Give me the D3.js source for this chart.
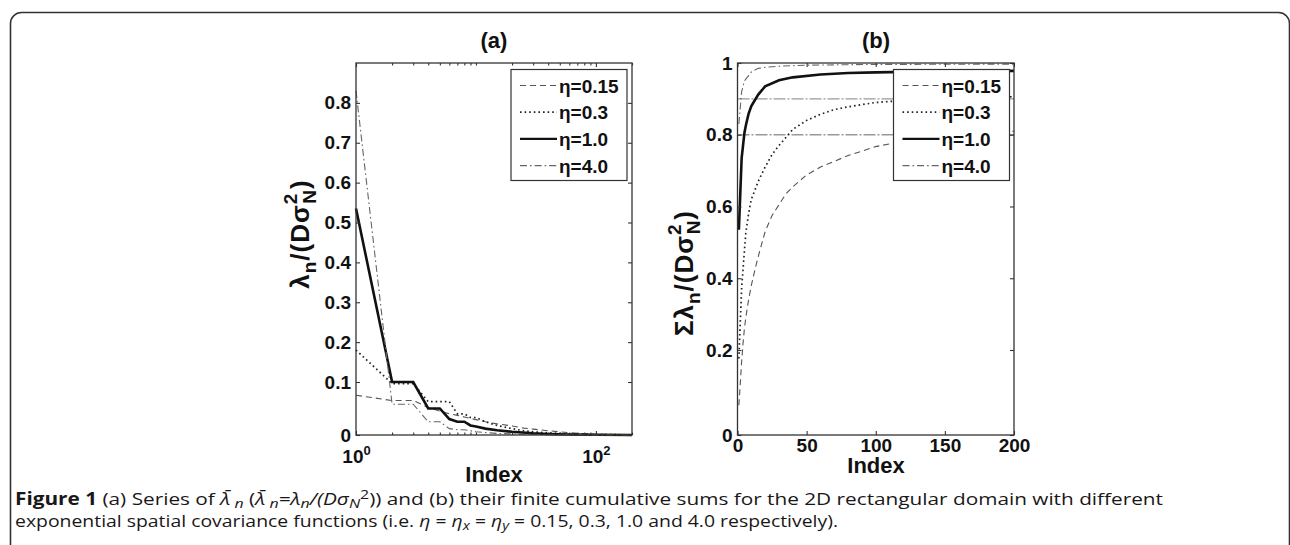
<!DOCTYPE html>
<html>
<head>
<meta charset="utf-8">
<script src="https://cdn.jsdelivr.net/npm/d3@7/dist/d3.min.js"></script>
<style>
body { margin: 0; background: #fff; }
svg text { font-family: "Liberation Sans", Arial, sans-serif; fill: #111; }
.tick text { font-weight: bold; font-size: 19px; }
.tick line { stroke: #333; }
.lab { font-weight: bold; }
.caption text { font-family: "Open Sans", "Noto Sans", sans-serif; fill: #1a1718; }
</style>
</head>
<body>
<svg width="1290" height="545"></svg>
<script>
// legend labels
var etaLabels = ["η=0.15", "η=0.3", "η=1.0", "η=4.0"];

// (a) normalised eigenvalues, [index, value]
var eigA015 = [[1,.075],[2,.065],[3,.065],[4,.052],[5,.045],[6,.04],[7,.037],[8,.034],[10,.029],[12,.025],[15,.021],[20,.017],[25,.013],[30,.011],[40,.008],[50,.006],[70,.003],[100,.0015],[150,.0006],[200,.0003]];
var eigA03  = [[1,.18],[2,.097],[3,.097],[4,.063],[5,.063],[6,.063],[7,.04],[8,.04],[9,.033],[10,.033],[12,.025],[15,.018],[20,.012],[25,.008],[30,.006],[40,.004],[50,.003],[70,.0015],[100,.0008],[200,.0003]];
var eigA10  = [[1,.535],[2,.1],[3,.1],[4,.05],[5,.05],[6,.03],[7,.025],[8,.025],[9,.018],[10,.016],[12,.012],[15,.009],[20,.006],[30,.003],[40,.002],[60,.001],[100,.0004],[200,.0001]];
var eigA40  = [[1,.83],[2,.058],[3,.058],[4,.025],[5,.025],[6,.012],[7,.01],[8,.01],[10,.006],[15,.003],[20,.002],[30,.001],[50,.0005],[200,0]];

// (b) cumulative sums, [index, value]
var cumB015 = [[1,.07],[2,.12],[3,.173],[4,.218],[5,.26],[6,.29],[8,.34],[10,.38],[13,.43],[16,.475],[20,.53],[25,.575],[30,.605],[35,.635],[40,.655],[50,.688],[60,.71],[80,.742],[100,.767],[120,.782],[150,.797],[200,.81]];
var cumB03  = [[1,.18],[2,.277],[3,.374],[4,.425],[5,.476],[6,.526],[8,.58],[10,.62],[15,.67],[20,.71],[25,.745],[30,.77],[40,.815],[50,.84],[60,.857],[70,.87],[80,.878],[100,.89],[130,.898],[160,.903],[200,.906]];
var cumB10  = [[1,.535],[2,.635],[3,.735],[4,.77],[5,.805],[6,.825],[7,.842],[8,.858],[10,.88],[15,.912],[20,.935],[30,.952],[40,.96],[60,.968],[80,.972],[100,.974],[150,.977],[200,.978]];
var cumB40  = [[1,.83],[2,.875],[3,.92],[4,.935],[5,.95],[6,.955],[8,.965],[10,.975],[15,.985],[20,.988],[30,.991],[50,.994],[100,.996],[200,.997]];

// horizontal reference levels in (b)
var refLevels = [0.9, 0.8];

// ticks
var xTicksA = [1, 100],
    xMinorA = [2,3,4,5,6,7,8,9,10,20,30,40,50,60,70,80,90,200],
    yTicksA = [0, 0.1, 0.2, 0.3, 0.4, 0.5, 0.6, 0.7, 0.8],
    xTicksB = [0, 50, 100, 150, 200],
    yTicksB = [0, 0.2, 0.4, 0.6, 0.8, 1];

var styles = [
    {dash: "6,4", color: "#555", width: 1.1},
    {dash: "1.6,3", color: "#222", width: 1.7},
    {dash: null, color: "#111", width: 2.6},
    {dash: "7,3,1.6,3", color: "#666", width: 1.1}
];

var svg = d3.select("svg");

// outer frame
svg.append("rect")
    .attr("x", 10.5).attr("y", 12.5)
    .attr("width", 1279).attr("height", 620)
    .attr("rx", 11)
    .attr("fill", "none").attr("stroke", "#333").attr("stroke-width", 1.6);

var plotTop = 63, plotBottom = 435;

// the printed figure has its lowest tick band stretched, so the y scales are piecewise
var xA = d3.scaleLog().domain([1, 200]).range([356, 632]),
    yA = d3.scaleLinear().domain([0, 0.1, 0.9]).range([plotBottom, 382, plotTop]);
var xB = d3.scaleLinear().domain([0, 200]).range([737.5, 1014]),
    yB = d3.scaleLinear().domain([0, 0.2, 1]).range([plotBottom, 350, plotTop]);

function drawLines(g, x, y, series) {
    var line = d3.line()
        .x(function(d) { return x(d[0]); })
        .y(function(d) { return y(d[1]); });
    g.selectAll("path.series")
        .data(series)
        .enter().append("path")
          .attr("class", "series")
          .attr("d", line)
          .attr("fill", "none")
          .attr("stroke", function(d, i) { return styles[i].color; })
          .attr("stroke-width", function(d, i) { return styles[i].width; })
          .attr("stroke-dasharray", function(d, i) { return styles[i].dash; });
}

function drawBox(g, x) {
    g.append("rect")
        .attr("x", x.range()[0]).attr("y", plotTop)
        .attr("width", x.range()[1] - x.range()[0])
        .attr("height", plotBottom - plotTop)
        .attr("fill", "none").attr("stroke", "#333").attr("stroke-width", 1.3);
}

function cleanAxis(sel) {
    sel.select(".domain").remove();
    sel.selectAll(".tick line").attr("stroke-width", 1.1);
}

function drawLegend(g, x0, y0) {
    var lg = g.append("g").attr("transform", "translate(" + x0 + "," + y0 + ")");
    lg.append("rect")
        .attr("width", 116).attr("height", 111)
        .attr("fill", "#fff").attr("stroke", "#333").attr("stroke-width", 1.2);
    var row = lg.selectAll("g.row")
        .data(etaLabels)
        .enter().append("g")
          .attr("class", "row")
          .attr("transform", function(d, i) { return "translate(0," + (16 + i * 26.7) + ")"; });
    row.append("line")
        .attr("x1", 9).attr("x2", 46)
        .attr("stroke", function(d, i) { return styles[i].color; })
        .attr("stroke-width", function(d, i) { return Math.min(styles[i].width, 2.2); })
        .attr("stroke-dasharray", function(d, i) { return styles[i].dash; });
    row.append("text")
        .attr("x", 48).attr("y", 7)
        .attr("class", "lab")
        .style("font-size", "19px")
        .text(function(d) { return d; });
}

function yLabel(g, x, y, prefix) {
    var t = g.append("text").attr("class", "lab")
        .attr("transform", "translate(" + x + "," + y + ") rotate(-90)")
        .attr("text-anchor", "middle")
        .style("font-size", "26px")
        .style("letter-spacing", "1px");
    t.append("tspan").text(prefix + "λ");
    t.append("tspan").attr("dy", 7).style("font-size", "19px").text("n");
    t.append("tspan").attr("dy", -7).text("/(Dσ");
    t.append("tspan").attr("dy", -12).style("font-size", "19px").text("2");
    t.append("tspan").attr("dx", -11).attr("dy", 19).style("font-size", "19px").text("N");
    t.append("tspan").attr("dy", -7).text(")");
}

// ---------- panel (a)
var ga = svg.append("g");
drawLines(ga, xA, yA, [eigA015, eigA03, eigA10, eigA40]);

ga.append("g").attr("transform", "translate(0," + plotBottom + ")")
    .call(d3.axisBottom(xA).tickValues(xMinorA).tickSize(-2.5).tickFormat(""))
    .call(cleanAxis);
ga.append("g").attr("transform", "translate(0," + plotTop + ")")
    .call(d3.axisTop(xA).tickValues(xMinorA).tickSize(-2.5).tickFormat(""))
    .call(cleanAxis);
ga.append("g").attr("transform", "translate(0," + plotTop + ")")
    .call(d3.axisTop(xA).tickValues(xTicksA).tickSize(-4).tickFormat(""))
    .call(cleanAxis);
var axA = ga.append("g").attr("transform", "translate(0," + plotBottom + ")")
    .call(d3.axisBottom(xA).tickValues(xTicksA).tickSize(-4).tickPadding(15).tickFormat(""))
    .call(cleanAxis);
axA.selectAll(".tick text").each(function(d) {
    var t = d3.select(this);
    t.append("tspan").text("10");
    t.append("tspan").attr("dy", -8).style("font-size", "13px").text(Math.round(Math.log10(d)));
});
ga.append("g").attr("transform", "translate(" + xA.range()[0] + ",0)")
    .call(d3.axisLeft(yA).tickValues(yTicksA).tickSize(-4).tickPadding(5).tickFormat(d3.format("~g")))
    .call(cleanAxis);
ga.append("g").attr("transform", "translate(" + xA.range()[1] + ",0)")
    .call(d3.axisRight(yA).tickValues(yTicksA).tickSize(-4).tickFormat(""))
    .call(cleanAxis);
drawBox(ga, xA);
drawLegend(ga, 511, 69.5);

ga.append("text").attr("class", "lab")
    .attr("x", 494).attr("y", 48).attr("text-anchor", "middle")
    .style("font-size", "22px").text("(a)");
ga.append("text").attr("class", "lab")
    .attr("x", 494).attr("y", 482).attr("text-anchor", "middle")
    .style("font-size", "22px").text("Index");
yLabel(ga, 309, 234, "");

// ---------- panel (b)
var gb = svg.append("g");
gb.selectAll("line.ref")
    .data(refLevels)
    .enter().append("line")
      .attr("class", "ref")
      .attr("x1", xB(0)).attr("x2", xB(200))
      .attr("y1", function(d) { return yB(d); })
      .attr("y2", function(d) { return yB(d); })
      .attr("stroke", "#999").attr("stroke-width", 1.4)
      .attr("stroke-dasharray", "12,2,2,2");
drawLines(gb, xB, yB, [cumB015, cumB03, cumB10, cumB40]);

gb.append("g").attr("transform", "translate(0," + plotBottom + ")")
    .call(d3.axisBottom(xB).tickValues(xTicksB).tickSize(-4).tickPadding(4).tickFormat(d3.format("d")))
    .call(cleanAxis);
gb.append("g").attr("transform", "translate(0," + plotTop + ")")
    .call(d3.axisTop(xB).tickValues(xTicksB).tickSize(-4).tickFormat(""))
    .call(cleanAxis);
gb.append("g").attr("transform", "translate(" + xB.range()[0] + ",0)")
    .call(d3.axisLeft(yB).tickValues(yTicksB).tickSize(-4).tickPadding(5).tickFormat(d3.format("~g")))
    .call(cleanAxis);
gb.append("g").attr("transform", "translate(" + xB.range()[1] + ",0)")
    .call(d3.axisRight(yB).tickValues(yTicksB).tickSize(-4).tickFormat(""))
    .call(cleanAxis);
drawBox(gb, xB);
drawLegend(gb, 893.5, 69.5);

gb.append("text").attr("class", "lab")
    .attr("x", 876).attr("y", 48).attr("text-anchor", "middle")
    .style("font-size", "22px").text("(b)");
gb.append("text").attr("class", "lab")
    .attr("x", 876).attr("y", 473).attr("text-anchor", "middle")
    .style("font-size", "22px").text("Index");
yLabel(gb, 693, 273, "Σ");

// ---------- caption
var cap = svg.append("g").attr("class", "caption").style("font-size", "17px");
var c1 = cap.append("text").attr("x", 15).attr("y", 505)
    .attr("textLength", 1148).attr("lengthAdjust", "spacingAndGlyphs");
c1.append("tspan").style("font-weight", "bold").text("Figure 1");
c1.append("tspan").text(" (a) Series of ");
c1.append("tspan").style("font-style", "italic").text("λ\u0304");
c1.append("tspan").style("font-style", "italic").style("font-size", "13px").attr("dy", 3).text(" n");
c1.append("tspan").attr("dy", -3).text(" (");
c1.append("tspan").style("font-style", "italic").text("λ\u0304");
c1.append("tspan").style("font-style", "italic").style("font-size", "13px").attr("dy", 3).text(" n");
c1.append("tspan").style("font-style", "italic").attr("dy", -3).text("=λ");
c1.append("tspan").style("font-style", "italic").style("font-size", "13px").attr("dy", 3).text("n");
c1.append("tspan").style("font-style", "italic").attr("dy", -3).text("/(Dσ");
c1.append("tspan").style("font-style", "italic").style("font-size", "13px").attr("dy", 3).text("N");
c1.append("tspan").style("font-size", "13px").attr("dy", -9).text("2");
c1.append("tspan").attr("dy", 6).text("))");
c1.append("tspan").text(" and (b) their finite cumulative sums for the 2D rectangular domain with different");

var c2 = cap.append("text").attr("x", 15).attr("y", 527)
    .attr("textLength", 823).attr("lengthAdjust", "spacingAndGlyphs");
c2.append("tspan").text("exponential spatial covariance functions (i.e. ");
c2.append("tspan").style("font-style", "italic").text("η");
c2.append("tspan").text(" = ");
c2.append("tspan").style("font-style", "italic").text("η");
c2.append("tspan").style("font-style", "italic").style("font-size", "13px").attr("dy", 3).text("x");
c2.append("tspan").attr("dy", -3).text(" = ");
c2.append("tspan").style("font-style", "italic").text("η");
c2.append("tspan").style("font-style", "italic").style("font-size", "13px").attr("dy", 3).text("y");
c2.append("tspan").attr("dy", -3).text(" = 0.15, 0.3, 1.0 and 4.0 respectively).");
</script>
</body>
</html>
